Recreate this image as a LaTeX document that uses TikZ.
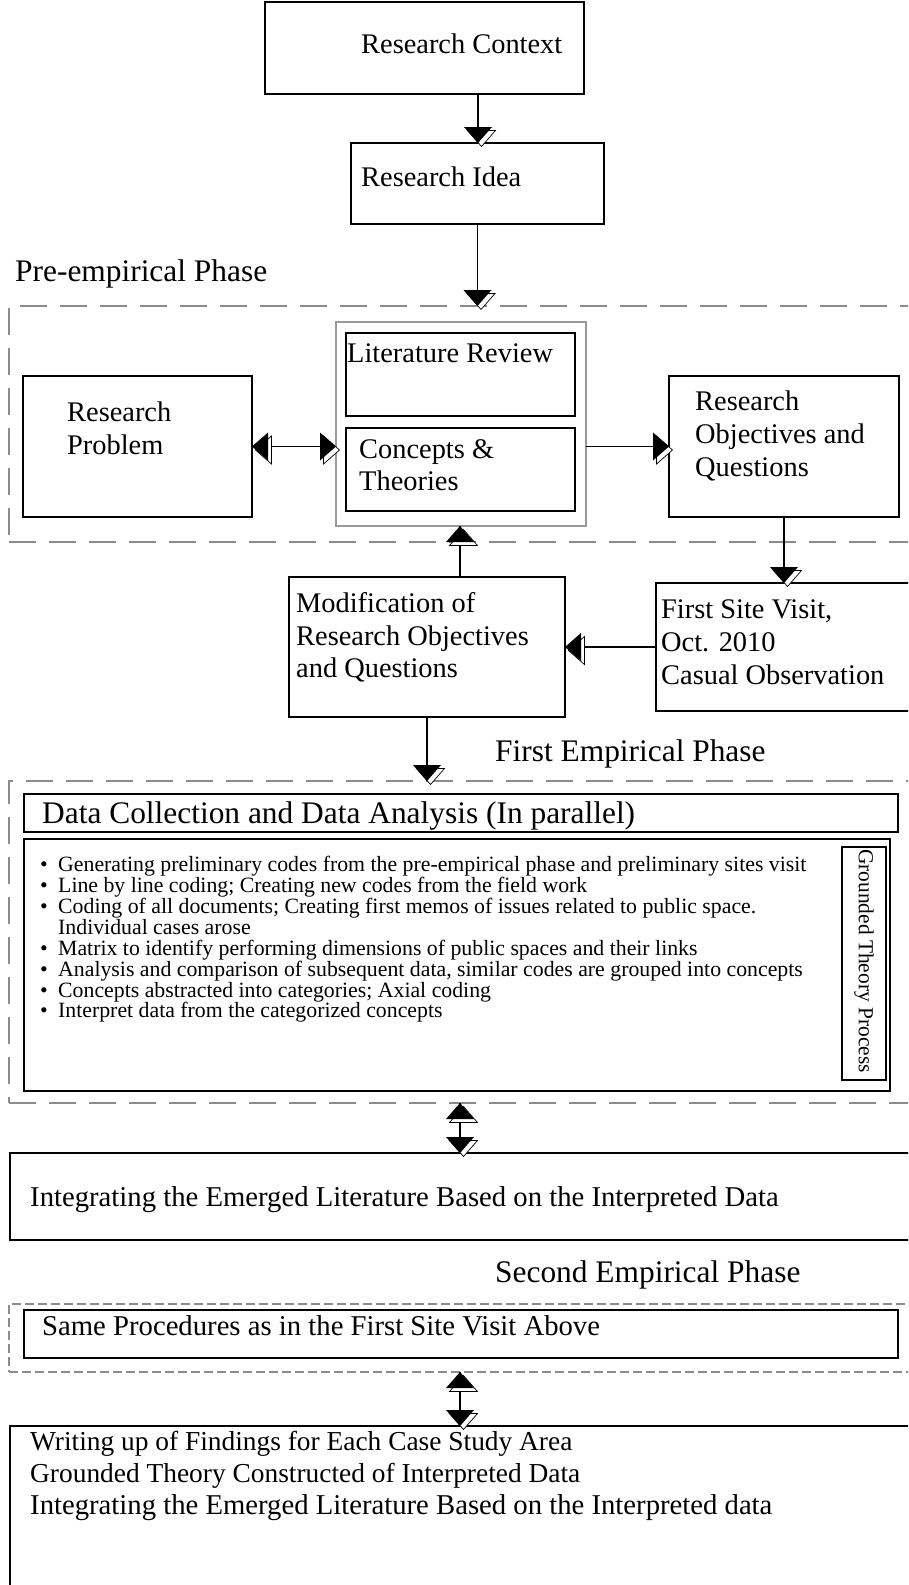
\documentclass[tikz,border=0pt]{standalone}
\usepackage{fontspec}
\setmainfont{Liberation Serif}
\usetikzlibrary{decorations.markings}

% arrow head: white outlined copy shifted by (#1,#2), black triangle on top;
% #3 is the signed head length (negative at a path end, positive at a path start)
\newcommand\shadowhead[3]{%
  \filldraw[fill=white,draw=black,line width=0.7pt,solid]
    (#1,#2) -- ++(#3,14pt) -- ++(0pt,-28pt) -- cycle;
  \fill[black] (0pt,0pt) -- (#3,14pt) -- (#3,-14pt) -- cycle;}

\begin{document}
\begin{tikzpicture}[x=1pt,y=-1pt,
  box/.style={draw=black,line width=1.2pt,outer sep=0pt,inner sep=0pt,anchor=north west},
  graybox/.style={draw=black!40,line width=1.5pt,outer sep=0pt,inner sep=0pt,anchor=north west},
  phase/.style={draw=black!45,line width=1.5pt,dash pattern=on 27pt off 13pt,outer sep=0pt,inner sep=0pt,anchor=north west},
  phasefine/.style={draw=black!45,line width=1.5pt,dash pattern=on 9pt off 4pt,outer sep=0pt,inner sep=0pt,anchor=north west},
  txt/.style={font=\fontsize{28.4}{34}\selectfont,inner sep=0pt,anchor=base west},
  txtl/.style={font=\fontsize{28.7}{34}\selectfont,inner sep=0pt,anchor=base west},
  txts/.style={font=\fontsize{27.4}{34}\selectfont,inner sep=0pt,anchor=base west},
  head/.style={font=\fontsize{31.4}{36}\selectfont,inner sep=0pt,anchor=base west},
  small/.style={font=\fontsize{21.8}{21}\selectfont,inner sep=0pt,anchor=base west},
  conn/.style={draw=black,line width=1.2pt},
  headend/.style 2 args={postaction={decorate,decoration={markings,
      mark=at position 1 with {\shadowhead{#1}{#2}{-16pt}}}}},
  headstart/.style 2 args={postaction={decorate,decoration={markings,
      mark=at position 0 with {\shadowhead{#1}{#2}{16pt}}}}},
  tipS/.style={headend={3.5pt}{3.5pt}},
  tipN/.style={headend={-3.5pt}{-3.5pt}},
  tipE/.style={headend={3.5pt}{-3.5pt}},
  tipW/.style={headend={-3.5pt}{3.5pt}},
  tailW/.style={headstart={3.5pt}{-3.5pt}},
  tailN/.style={headstart={3.5pt}{3.5pt}},
]
\useasboundingbox (0,0) rectangle (908,1585);
\clip (0,0) rectangle (908,1585);

% ---------- phase frames ----------
\node[phase,minimum width=921pt,minimum height=236pt] (pre) at (9,306) {};
\node[phase,minimum width=921pt,minimum height=322pt] (emp1) at (9,781) {};
\node[phasefine,minimum width=921pt,minimum height=68pt] (emp2) at (9,1304) {};

% ---------- boxes ----------
\node[box,minimum width=319pt,minimum height=92pt] (rc) at (265,2) {};
\node[box,minimum width=253pt,minimum height=81pt] (ri) at (351,143) {};
\node[box,minimum width=229pt,minimum height=141pt] (rp) at (23,376) {};
\node[graybox,minimum width=250pt,minimum height=204pt] (outer) at (336,322) {};
\node[box,minimum width=229pt,minimum height=83pt] (lit) at (346,333) {};
\node[box,minimum width=229pt,minimum height=83pt] (con) at (346,428) {};
\node[box,minimum width=230pt,minimum height=141pt] (ro) at (669,376) {};
\node[box,minimum width=276pt,minimum height=140pt] (mod) at (289,577) {};
\node[box,minimum width=274pt,minimum height=128pt] (fsv) at (656,583) {};
\node[box,minimum width=874pt,minimum height=38pt] (data) at (24,794) {};
\node[box,minimum width=866pt,minimum height=252pt] (bul) at (24,839) {};
\node[box,minimum width=44pt,minimum height=233pt] (gt) at (842,847) {};
\node[box,minimum width=920pt,minimum height=87pt] (integ) at (10,1153) {};
\node[box,minimum width=874pt,minimum height=48pt] (same) at (24,1310) {};
\node[box,minimum width=920pt,minimum height=174pt] (final) at (10,1426) {};

% ---------- texts ----------
\node[txt] (trc) at (361,53) {Research Context};
\node[txt] (tri) at (361,186) {Research Idea};
\node[head] (tpre) at (15,281) {Pre-empirical Phase};
\node[txt] (trp1) at (67,421) {Research};
\node[txt] (trp2) at (67,454) {Problem};
\node[txt] (tlit) at (347,362) {Literature Review};
\node[txt] (tcon1) at (359,458) {Concepts \&};
\node[txt] (tcon2) at (359,490) {Theories};
\node[txt] (tro1) at (695,410) {Research};
\node[txt] (tro2) at (695,443) {Objectives and};
\node[txt] (tro3) at (695,476) {Questions};
\node[txt] (tmod1) at (296,612) {Modification of};
\node[txt] (tmod2) at (296,645) {Research Objectives};
\node[txt] (tmod3) at (296,677) {and Questions};
\node[txt] (tfsv1) at (661,618) {First Site Visit,};
\node[txt] (tfsv2) at (661,651) {Oct. 2010};
\node[txt] (tfsv3) at (661,684) {Casual Observation};
\node[head] (temp1) at (495,761) {First Empirical Phase};
\node[head] (tdata) at (42,823) {Data Collection and Data Analysis (In parallel)};
\node[small] (b1) at (40,871) {\makebox[18pt][l]{•}Generating preliminary codes from the pre-empirical phase and preliminary sites visit};
\node[small] (b2) at (40,892) {\makebox[18pt][l]{•}Line by line coding; Creating new codes from the field work};
\node[small] (b3) at (40,913) {\makebox[18pt][l]{•}Coding of all documents; Creating first memos of issues related to public space.};
\node[small] (b3b) at (40,934) {\makebox[18pt][l]{}Individual cases arose};
\node[small] (b4) at (40,955) {\makebox[18pt][l]{•}Matrix to identify performing dimensions of public spaces and their links};
\node[small] (b5) at (40,976) {\makebox[18pt][l]{•}Analysis and comparison of subsequent data, similar codes are grouped into concepts};
\node[small] (b6) at (40,997) {\makebox[18pt][l]{•}Concepts abstracted into categories; Axial coding};
\node[small] (b7) at (40,1017) {\makebox[18pt][l]{•}Interpret data from the categorized concepts};
\node[font=\fontsize{21.4}{21}\selectfont,inner sep=0pt,rotate=-90] (tgt) at (864,961) {Grounded Theory Process};
\node[txtl] (tint) at (30,1206) {Integrating the Emerged Literature Based on the Interpreted Data};
\node[head] (temp2) at (495,1282) {Second Empirical Phase};
\node[txtl] (tsame) at (42,1335) {Same Procedures as in the First Site Visit Above};
\node[txts] (tf1) at (30,1450) {Writing up of Findings for Each Case Study Area};
\node[txts] (tf2) at (30,1482) {Grounded Theory Constructed of Interpreted Data};
\node[txtl] (tf3) at (30,1514) {Integrating the Emerged Literature Based on the Interpreted data};

% ---------- connectors ----------
\coordinate (xa) at (478,0);
\coordinate (xb) at (460,0);
\draw[conn,tipS] (rc.south -| xa) -- (ri.north -| xa);
\draw[conn,tipS] (ri.south) -- (ri.south |- pre.north);
\draw[conn,tipE,tailW] (rp.east) -- (rp.east -| outer.west);
\draw[conn,tipE] (ro.west -| outer.east) -- (ro.west);
\draw[conn,tipS] (ro.south) -- (ro.south |- fsv.north);
\draw[conn,tipW] (fsv.west) -- (fsv.west -| mod.east);
\draw[conn,tipN] (mod.north -| xb) -- (outer.south -| xb);
\draw[conn,tipS] (mod.south) -- (mod.south |- emp1.north);
\draw[conn,tipS,tailN] (emp1.south -| xb) -- (integ.north -| xb);
\draw[conn,tipS,tailN] (emp2.south -| xb) -- (final.north -| xb);
\end{tikzpicture}
\end{document}
